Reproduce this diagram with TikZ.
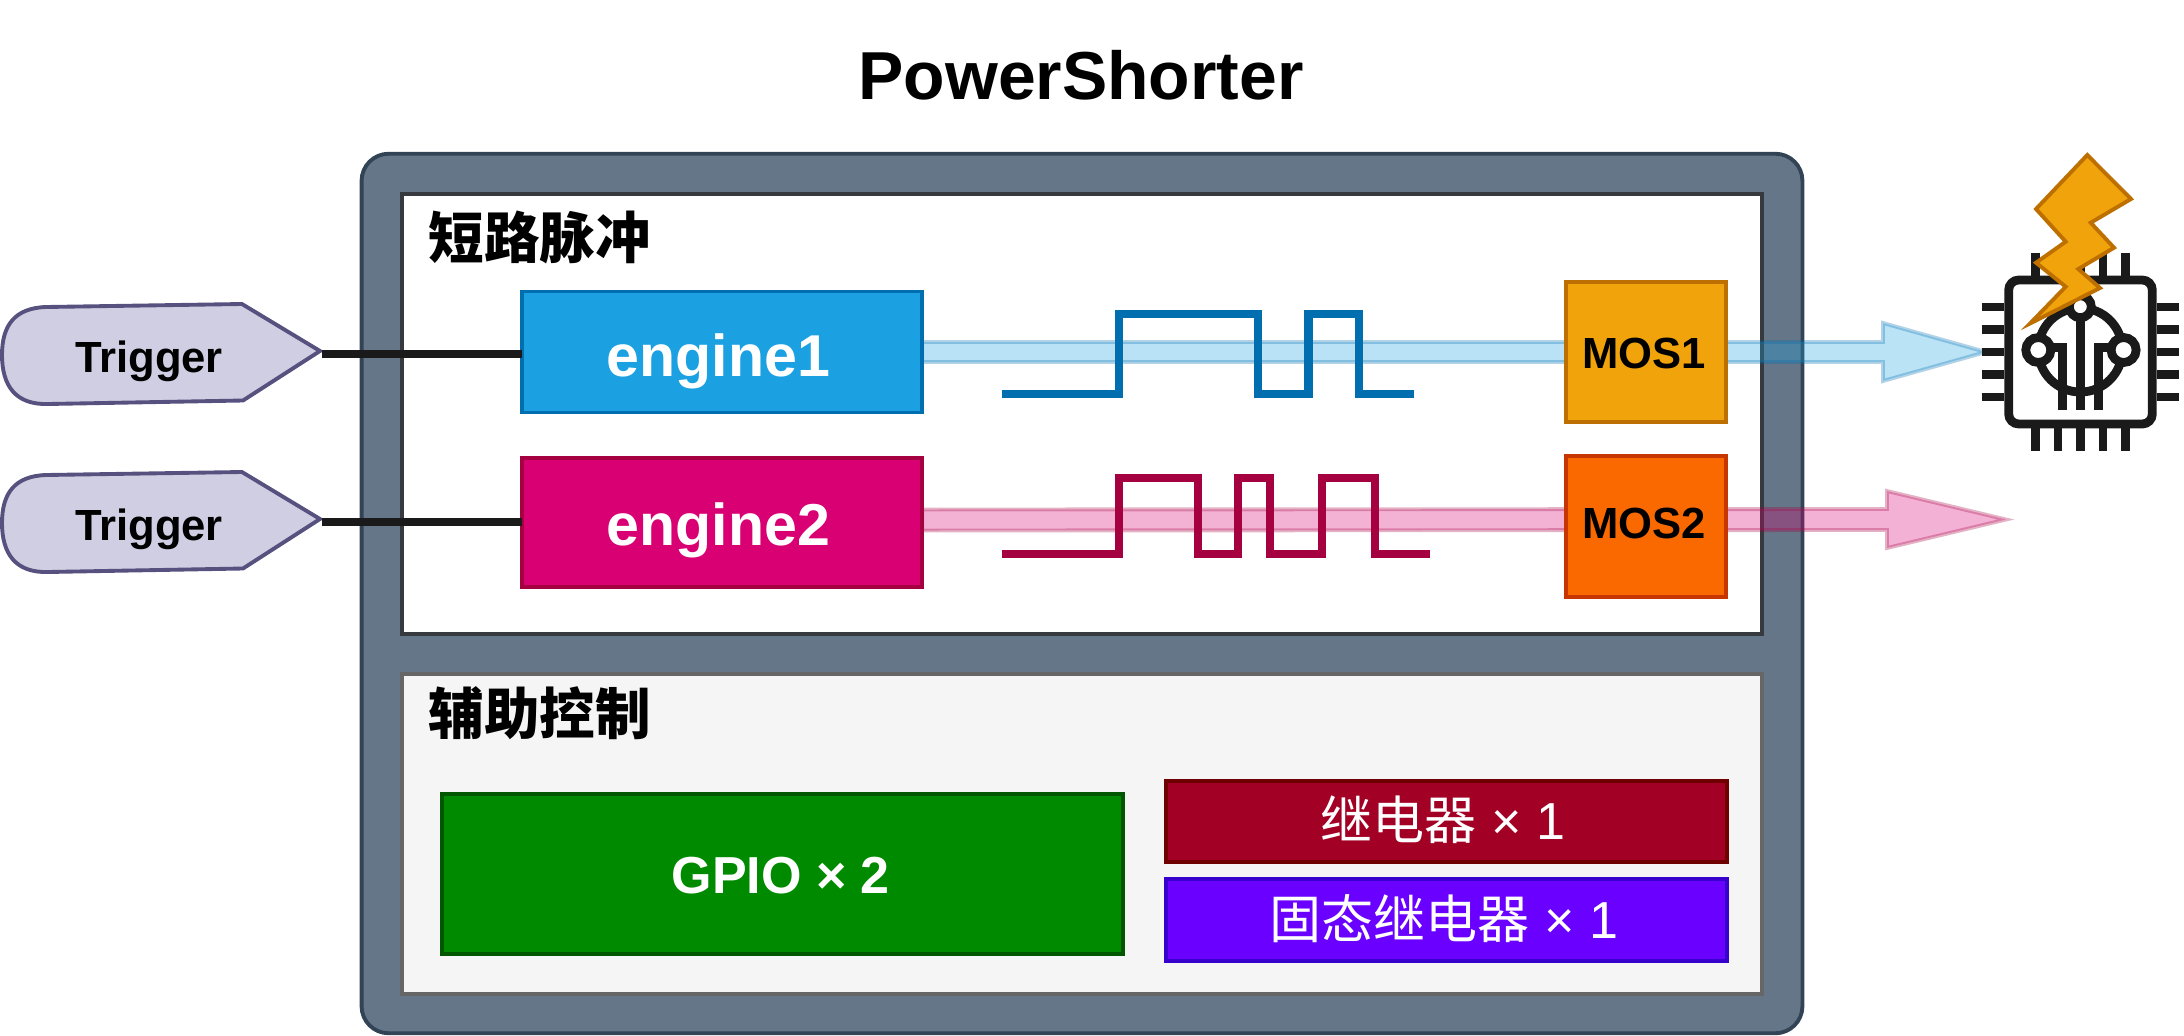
\documentclass[tikz,border=0pt]{standalone}
\usepackage{fontspec}
\setmainfont{Liberation Sans}
\newfontfamily\cjk{Noto Sans CJK SC}
\definecolor{psslate}{HTML}{647687}
\definecolor{psslatedark}{HTML}{314354}
\definecolor{pspanel}{HTML}{36393D}
\definecolor{psgrey}{HTML}{F5F5F5}
\definecolor{psgreydark}{HTML}{666666}
\definecolor{psblue}{HTML}{1BA1E2}
\definecolor{psbluedark}{HTML}{006EAF}
\definecolor{pspink}{HTML}{D80073}
\definecolor{pspinkdark}{HTML}{A50040}
\definecolor{psamber}{HTML}{F0A30A}
\definecolor{psamberdark}{HTML}{BD7000}
\definecolor{psorange}{HTML}{FA6800}
\definecolor{psorangedark}{HTML}{C73500}
\definecolor{psgreen}{HTML}{008A00}
\definecolor{psgreendark}{HTML}{005700}
\definecolor{pscrimson}{HTML}{A20025}
\definecolor{pscrimsondark}{HTML}{6F0000}
\definecolor{psviolet}{HTML}{6A00FF}
\definecolor{psvioletdark}{HTML}{3700CC}
\definecolor{pstrig}{HTML}{D0CEE2}
\definecolor{pstrigdark}{HTML}{56517E}
\definecolor{psink}{HTML}{1A1A1A}
\usetikzlibrary{arrows.meta,positioning,calc,backgrounds}
\tikzset{
  box/.style={draw, line width=1.1pt, inner sep=0pt, outer sep=0pt, align=center},
  enginebox/.style={box, text=white, minimum width=4cm, font=\fontsize{16.8}{18}\selectfont\bfseries, text depth=0pt},
  mosbox/.style={box, text=black, minimum width=1.6cm, font=\fontsize{12.4}{14}\selectfont\bfseries, text depth=0pt},
  auxbox/.style={box, text=white, font=\fontsize{14.8}{17}\selectfont, text depth=0pt},
  heading/.style={anchor=west, inner sep=0pt, font=\fontsize{15.8}{18}\selectfont\cjk\bfseries},
  trigbody/.style={draw=pstrigdark, fill=pstrig, line width=1.1pt},
  triglabel/.style={anchor=base, inner sep=0pt, font=\fontsize{12.4}{14}\selectfont\bfseries},
  wire/.style={draw=psink, line width=2.3pt},
  pulse/.style={line width=2.4pt},
  chipline/.style={draw=psink, line width=2.5pt}
}
\begin{document}
\begin{tikzpicture}[x=0.01cm,y=-0.01cm]
  \useasboundingbox (0,0) rectangle (2184,1036);

  % Title
  \node[anchor=base, inner sep=0pt, font=\fontsize{19.3}{22}\selectfont\bfseries] (title) at (1081,99) {PowerShorter};

  % Engines
  \node[enginebox, draw=psbluedark, fill=psblue, minimum height=1.21cm, text height=13.7pt] (engineone) at (722,352) {engine1\hspace{2pt}};
  \node[enginebox, draw=pspinkdark, fill=pspink, minimum height=1.29cm, text height=12.8pt] (enginetwo) at (722,522.5) {engine2\hspace{2pt}};

  % MOS switches
  \node[mosbox, draw=psamberdark, fill=psamber, minimum height=1.4cm, text height=9.2pt] (mosone) at (1646,352) {MOS1\hspace{1pt}};
  \node[mosbox, draw=psorangedark, fill=psorange, minimum height=1.41cm, text height=7.1pt] (mostwo) at (1646,526.5) {MOS2\hspace{1pt}};

  % Section headings
  \node[heading] (pulsehead) at (428,237) {短路脉冲};
  \node[heading] (auxhead) at (428,713) {辅助控制};

  % Auxiliary outputs
  \node[auxbox, draw=psgreendark, fill=psgreen, minimum width=6.8cm, minimum height=1.6cm, text height=11pt, font=\fontsize{14.8}{17}\selectfont\bfseries] (gpio) at (782.5,874) {GPIO × 2\hspace{1pt}};
  \node[auxbox, draw=pscrimsondark, fill=pscrimson, minimum width=5.6cm, minimum height=0.81cm, text height=10.5pt] (relay) at (1446.5,821.5) {{\cjk 继电器} × 1\hspace{2pt}};
  \node[auxbox, draw=psvioletdark, fill=psviolet, minimum width=5.6cm, minimum height=0.82cm, text height=10.5pt] (ssr) at (1446.5,920) {{\cjk 固态继电器} × 1\hspace{1.5pt}};

  % Trigger inputs
  \draw[trigbody] (242,304) -- (46,307) .. controls (15,308) and (2,325) .. (2,355) .. controls (2,385) and (15,405) .. (48,404) -- (243,400.5) -- (320,351) -- cycle;
  \draw[trigbody] (242,472) -- (46,475) .. controls (15,476) and (2,493) .. (2,523) .. controls (2,553) and (15,573) .. (48,572) -- (243,568.5) -- (320,519) -- cycle;
  \node[triglabel] (trigone) at (149,372) {Trigger};
  \node[triglabel] (trigtwo) at (149,540) {Trigger};
  \coordinate (trigonetip) at (322,354);
  \coordinate (trigtwotip) at (322,522);
  \draw[wire] (trigonetip) -- (trigonetip -| engineone.west);
  \draw[wire] (trigtwotip) -- (trigtwotip -| enginetwo.west);

  % Pulse shapes
  \draw[pulse, psbluedark] (1002,394) -- (1119,394) -- (1119,314) -- (1258,314) -- (1258,394) -- (1308.6,394) -- (1308.6,314) -- (1359,314) -- (1359,394) -- (1413.6,394);
  \draw[pulse, pspinkdark] (1002,554) -- (1119,554) -- (1119,478) -- (1198,478) -- (1198,554) -- (1238,554) -- (1238,478) -- (1270,478) -- (1270,554) -- (1322,554) -- (1322,478) -- (1375,478) -- (1375,554) -- (1430,554);

  % Chip pins
  \draw[chipline]
    (1981.7,307) -- (2004,307) (1981.7,329.3) -- (2004,329.3) (1981.7,352) -- (2004,352) (1981.7,374.3) -- (2004,374.3) (1981.7,397) -- (2004,397)
    (2156.7,307) -- (2179.3,307) (2156.7,329.3) -- (2179.3,329.3) (2156.7,352) -- (2179.3,352) (2156.7,374.3) -- (2179.3,374.3) (2156.7,397) -- (2179.3,397)
    (2035.7,252.7) -- (2035.7,275.7) (2058,252.7) -- (2058,275.7) (2080.3,252.7) -- (2080.3,275.7) (2103,252.7) -- (2103,275.7) (2125.7,252.7) -- (2125.7,275.7)
    (2035.7,428) -- (2035.7,450.7) (2058,428) -- (2058,450.7) (2080.3,428) -- (2080.3,450.7) (2103,428) -- (2103,450.7) (2125.7,428) -- (2125.7,450.7);
  % Chip body and traces
  \draw[chipline, fill=white, rounded corners=0.1cm] (2008.7,280) rectangle (2152.3,424);
  \draw[chipline] (2080.3,350) circle[radius=0.42cm];
  \draw[chipline] (2080.3,306.7) -- (2080.3,410);
  \draw[chipline] (2062.3,410) -- (2062.3,347.7) -- (2049,347.7);
  \draw[chipline] (2098.3,410) -- (2098.3,347.7) -- (2112,347.7);
  \draw[chipline, fill=white] (2038.3,350) circle[radius=0.125cm];
  \draw[chipline, fill=white] (2123.6,350) circle[radius=0.125cm];
  \draw[chipline, fill=white] (2080.3,306.7) circle[radius=0.11cm];

  % Lightning bolt
  \draw[draw=psamberdark, fill=psamber, line width=1.1pt] (2087.3,155) -- (2131,199) -- (2090.7,222.7) -- (2114,247.7) -- (2078.3,269) -- (2100,288) -- (2030,323.5) -- (2065.7,286.7) -- (2036,262.7) -- (2065.7,241.7) -- (2036,209) -- cycle;

  \begin{pgfonlayer}{background}
    % Housing and panels
    \node[box, draw=psslatedark, fill=psslate, minimum width=14.4cm, minimum height=8.79cm, rounded corners=0.27cm] (frame) at (1082,593.5) {};
    \node[box, draw=pspanel, fill=white, minimum width=13.6cm, minimum height=4.4cm] (pulsepanel) at (1082,414) {};
    \node[box, draw=psgreydark, fill=psgrey, minimum width=13.6cm, minimum height=3.2cm] (auxpanel) at (1082,834) {};
    % Output arrows
    \coordinate (flowonetip) at (1986,352);
    \coordinate (flowtwotip) at (2006,519.5);
    \draw[draw=psbluedark, fill=psblue, opacity=.3, line width=1.1pt] ($(engineone.east)+(0,-10)$) -- (1883,342) -- (1883,323) -- (flowonetip) -- (1883,381) -- (1883,362) -- ($(engineone.east)+(0,10)$) -- cycle;
    \draw[draw=pspinkdark, fill=pspink, opacity=.3, line width=1.1pt] ($(enginetwo.east)+(0,-13)$) -- (1887,509) -- (1887,491) -- (flowtwotip) -- (1887,548) -- (1887,530) -- ($(enginetwo.east)+(0,8)$) -- cycle;
  \end{pgfonlayer}
\end{tikzpicture}
\end{document}
